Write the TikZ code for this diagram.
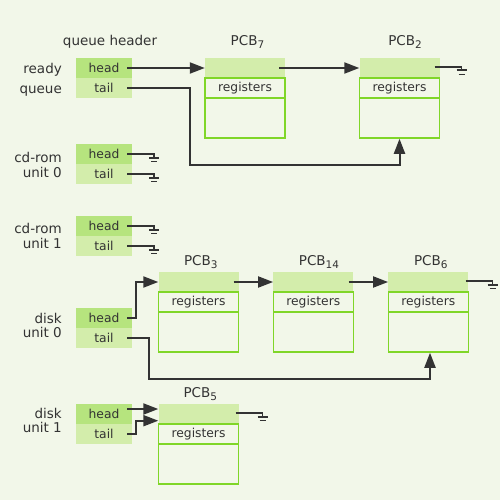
\documentclass[tikz,border=0pt]{standalone}
\usepackage{fontspec}
\setmainfont{DejaVu Sans}
\usetikzlibrary{arrows.meta,calc}
\definecolor{bg}{RGB}{242,247,233}
\definecolor{hd}{RGB}{182,228,126}
\definecolor{tl}{RGB}{211,237,171}
\definecolor{bd}{RGB}{128,214,40}
\definecolor{ink}{RGB}{51,51,51}
\newcommand{\pcbsub}[1]{\raisebox{-3pt}{\fontsize{10.5}{12}\selectfont #1}}
\begin{document}
\begin{tikzpicture}[x=1pt,y=-1pt,
  lbl/.style={font=\fontsize{13.5}{15}\selectfont, text=ink, inner sep=0},
  cell/.style={minimum width=56pt, minimum height=20pt, inner sep=0, font=\fontsize{12.3}{14}\selectfont, text=ink},
  hcell/.style={cell, fill=hd},
  tcell/.style={cell, fill=tl},
  pcbtop/.style={minimum width=80pt, minimum height=20pt, inner sep=0, fill=tl},
  pcbreg/.style={minimum width=80pt, minimum height=20pt, inner sep=0, draw=bd, line width=1.5pt, font=\fontsize{12.3}{14}\selectfont, text=ink},
  pcbbody/.style={minimum width=80pt, minimum height=40pt, inner sep=0, draw=bd, line width=1.5pt},
  wire/.style={draw=ink, line width=2pt},
  arr/.style={wire, -{Triangle[length=15pt,width=11pt]}},
  gnd/.pic={
    \draw[ink, line width=1.5pt] (0,-0.7) -- (0,3.5);
    \draw[ink, line width=2pt] (-5,3.5) -- (5,3.5);
    \draw[ink, line width=1.5pt] (-3,7.5) -- (3,7.5);
  }
]
\fill[bg] (0,0) rectangle (500,500);
\useasboundingbox (0,0) rectangle (500,500);

% header title
\node[lbl, anchor=base] (qh) at (110,45.3) {queue header};

% queue header cells
\node[hcell] (rh) at (104,68) {head};
\node[tcell] (rt) at (104,88) {tail};
\node[hcell] (c0h) at (104,154) {head};
\node[tcell] (c0t) at (104,174) {tail};
\node[hcell] (c1h) at (104,226) {head};
\node[tcell] (c1t) at (104,246) {tail};
\node[hcell] (d0h) at (104,318) {head};
\node[tcell] (d0t) at (104,338) {tail};
\node[hcell] (d1h) at (104,414) {head};
\node[tcell] (d1t) at (104,434) {tail};

% left labels
\node[lbl, anchor=base east] (l1a) at (62,73.3) {ready};
\node[lbl, anchor=base east] (l1b) at (62,93.5) {queue};
\node[lbl, anchor=base east] (l2a) at (62,162.7) {cd-rom};
\node[lbl, anchor=base east] (l2b) at (62,177.7) {unit 0};
\node[lbl, anchor=base east] (l3a) at (62,233.3) {cd-rom};
\node[lbl, anchor=base east] (l3b) at (62,248.3) {unit 1};
\node[lbl, anchor=base east] (l4a) at (62,323.3) {disk};
\node[lbl, anchor=base east] (l4b) at (62,337.5) {unit 0};
\node[lbl, anchor=base east] (l5a) at (62,418.3) {disk};
\node[lbl, anchor=base east] (l5b) at (62,432.7) {unit 1};

% PCBs
\newcommand{\pcb}[3]{% name, cx, top
  \node[pcbtop] (#1t) at (#2,#3+10) {};
  \node[pcbreg] (#1r) at (#2,#3+30) {registers};
  \node[pcbbody] (#1b) at (#2,#3+60) {};
}
\pcb{p7}{245}{58}
\pcb{p2}{399.5}{58}
\pcb{p3}{198.5}{272}
\pcb{p14}{313.3}{272}
\pcb{p6}{428.3}{272}
\pcb{p5}{198.5}{404}

\node[lbl, anchor=base] (n7) at (247.5,45.7) {PCB\pcbsub{7}};
\node[lbl, anchor=base] (n2) at (405,45.7) {PCB\pcbsub{2}};
\node[lbl, anchor=base] (n3) at (200.8,265.7) {PCB\pcbsub{3}};
\node[lbl, anchor=base] (n14) at (319,265.7) {PCB\pcbsub{14}};
\node[lbl, anchor=base] (n6) at (430.8,265.7) {PCB\pcbsub{6}};
\node[lbl, anchor=base] (n5) at (200.3,397.3) {PCB\pcbsub{5}};

% ready queue
\draw[arr] ($(rh.east)+(-5,0)$) -- (p7t.west);
\draw[arr] ($(p7t.east)+(-6,0)$) -- (p2t.west);
\draw[wire] ($(p2t.east)+(-5,-1)$) -- ++(27,0) coordinate (g2);
\pic at (g2) {gnd};
\coordinate (k1) at (190,165);
\draw[arr] ($(rt.east)+(-5,0)$) -| (k1) -| (p2b.south);

% cd-rom grounds
\draw[wire] ($(c0h.east)+(-5,0)$) -- ++(27,0) coordinate (g3);
\pic at (g3) {gnd};
\draw[wire] ($(c0t.east)+(-5,0)$) -- ++(27,0) coordinate (g4);
\pic at (g4) {gnd};
\draw[wire] ($(c1h.east)+(-5,0)$) -- ++(27,0) coordinate (g5);
\pic at (g5) {gnd};
\draw[wire] ($(c1t.east)+(-5,0)$) -- ++(27,0) coordinate (g6);
\pic at (g6) {gnd};

% disk unit 0
\coordinate (k2) at (136,282);
\draw[arr] ($(d0h.east)+(-5,0)$) -| (k2) -- (p3t.west);
\draw[arr] ($(p3t.east)+(-5,0)$) -- (p14t.west);
\draw[arr] ($(p14t.east)+(-5,0)$) -- (p6t.west);
\draw[wire] ($(p6t.east)+(-3,-1)$) -- ++(27,0) coordinate (g7);
\pic at (g7) {gnd};
\coordinate (k3) at (149,379);
\draw[arr] ($(d0t.east)+(-5,0)$) -| (k3) -| ($(p6b.south)+(1.7,0)$);

% disk unit 1
\draw[arr] ($(d1h.east)+(-5,-5)$) -- ($(p5t.west)+(0,-5)$);
\coordinate (k4) at (136,420.7);
\draw[arr] ($(d1t.east)+(-5,0)$) -| (k4) -- ($(p5t.west)+(0,6.7)$);
\draw[wire] ($(p5t.east)+(-3,-1)$) -- ++(27,0) coordinate (g8);
\pic at (g8) {gnd};
\end{tikzpicture}
\end{document}
